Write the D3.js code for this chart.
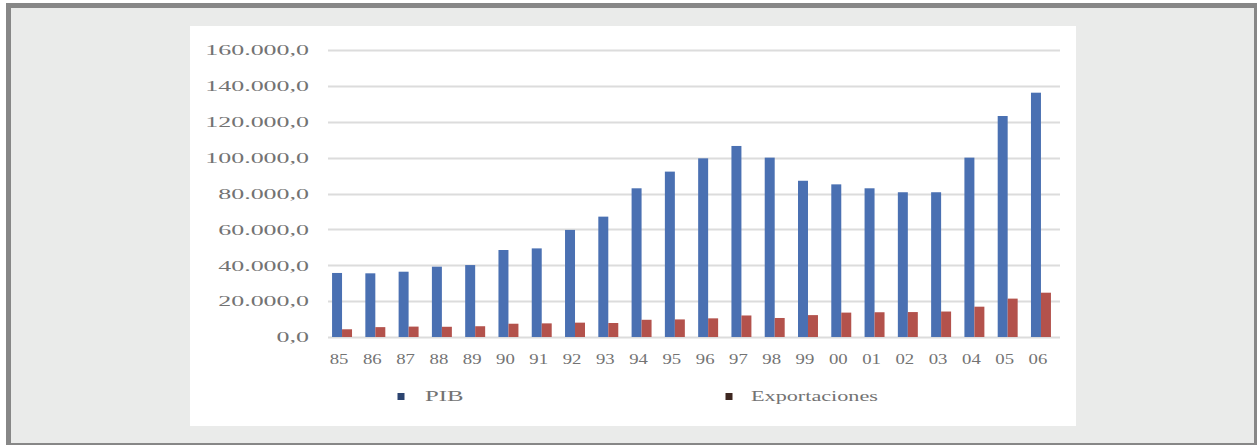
<!DOCTYPE html>
<html>
<head>
<meta charset="utf-8">
<script src="https://cdn.jsdelivr.net/npm/d3@7"></script>
<style>
  html, body { margin: 0; padding: 0; background: #ffffff; }
  svg { display: block; }
  text { font-family: "Liberation Serif", "DejaVu Serif", serif; fill: #737373; }
</style>
</head>
<body>
<svg id="chart" width="1257" height="445"></svg>
<script>
// Year labels (two digits) and the two series, in the same order
const years = ["85","86","87","88","89","90","91","92","93","94","95",
               "96","97","98","99","00","01","02","03","04","05","06"];
const pib = [35700, 35500, 36400, 39200, 40100, 48500, 49400, 59700, 67100, 82900, 92200,
             99600, 106500, 100000, 87100, 85100, 82900, 80700, 80700, 100000, 123200, 136200];
const exportaciones = [4300, 5500, 5800, 5700, 6000, 7400, 7600, 8000, 7800, 9600, 9800,
                       10400, 12000, 10600, 12200, 13600, 13800, 13900, 14200, 16900, 21400, 24700];
const seriesNames = ["PIB", "Exportaciones"];
const yTicks = [0, 20000, 40000, 60000, 80000, 100000, 120000, 140000, 160000];

const colors = { PIB: "#4a70b2", Exportaciones: "#b3524c" };
const markerColors = { PIB: "#2c4470", Exportaciones: "#3e2720" };

const svg = d3.select("#chart");

// Page frame: grey border, light panel, white chart area
svg.append("rect").attr("x", 8.5).attr("y", 5.5).attr("width", 1248).attr("height", 440)
  .attr("fill", "#eaebea").attr("stroke", "#878787").attr("stroke-width", 5);
svg.append("rect").attr("x", 190).attr("y", 26).attr("width", 886).attr("height", 400)
  .attr("fill", "#ffffff");

// Spanish number format: 160.000,0
const locale = d3.formatLocale({ decimal: ",", thousands: ".", grouping: [3], currency: ["", ""] });
const fmt = locale.format(",.1f");

const plot = { left: 328, right: 1060 };
const y = d3.scaleLinear().domain([0, 160000]).range([337, 50]);
const x = d3.scaleBand().domain(years).range([325.4, 1057.6]).paddingInner(0.4).paddingOuter(0.2);
const xSub = d3.scaleBand().domain(seriesNames).range([0, x.bandwidth()]);

// Horizontal gridlines
svg.append("g").selectAll("line").data(yTicks).join("line")
  .attr("x1", plot.left).attr("x2", plot.right)
  .attr("y1", d => Math.round(y(d)) + 0.5).attr("y2", d => Math.round(y(d)) + 0.5)
  .attr("stroke", "#dcdcdc").attr("stroke-width", 2);

// Y tick labels (wide, stretched type)
svg.append("g").selectAll("text").data(yTicks).join("text")
  .attr("transform", d => `translate(309,${y(d)}) scale(1.73,1)`)
  .attr("text-anchor", "end").attr("dy", "0.35em")
  .style("font-size", "15px")
  .text(d => fmt(d));

// Bars
const groups = svg.append("g").selectAll("g").data(years).join("g")
  .attr("transform", d => `translate(${x(d)},0)`);
groups.selectAll("rect")
  .data((d, i) => [{ key: "PIB", v: pib[i] }, { key: "Exportaciones", v: exportaciones[i] }])
  .join("rect")
  .attr("x", d => xSub(d.key))
  .attr("width", xSub.bandwidth())
  .attr("y", d => y(d.v))
  .attr("height", d => y(0) - y(d.v))
  .attr("fill", d => colors[d.key]);

// X labels
svg.append("g").selectAll("text").data(years).join("text")
  .attr("transform", d => `translate(${x(d) + x.bandwidth() / 2 - 3},364) scale(1.25,1)`)
  .attr("text-anchor", "middle")
  .style("font-size", "15px")
  .text(d => d);

// Legend
const legend = [
  { key: "PIB", mx: 401, tx: 425 },
  { key: "Exportaciones", mx: 729, tx: 751 }
];
const lg = svg.append("g").selectAll("g").data(legend).join("g");
lg.append("rect")
  .attr("x", d => d.mx - 3.5).attr("y", 393).attr("width", 7).attr("height", 7)
  .attr("fill", d => markerColors[d.key]);
lg.append("text")
  .attr("transform", d => `translate(${d.tx},401) scale(${d.key === "PIB" ? 1.65 : 1.48},1)`)
  .style("font-size", "15px")
  .text(d => d.key);
</script>
</body>
</html>
